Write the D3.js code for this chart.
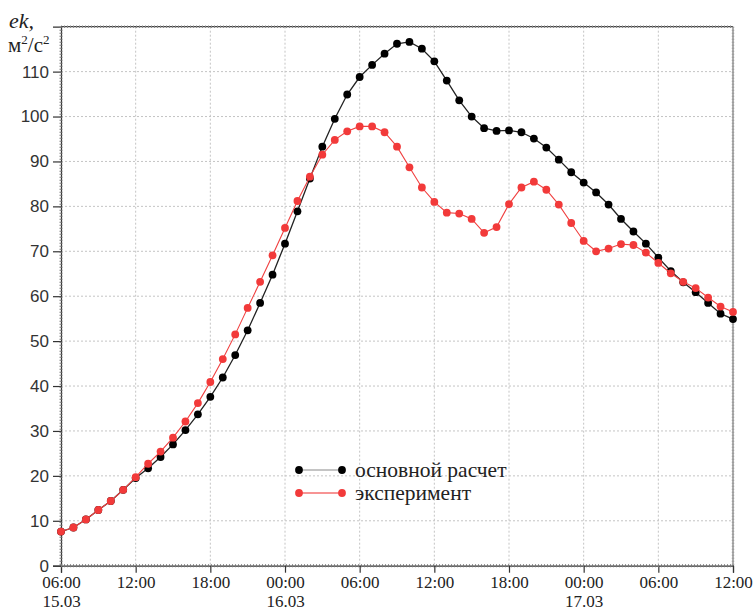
<!DOCTYPE html>
<html>
<head>
<meta charset="utf-8">
<script src="https://cdn.jsdelivr.net/npm/d3@7"></script>
<style>
  html, body { margin: 0; padding: 0; background: #fff; }
  svg { display: block; }
</style>
</head>
<body>
<svg id="chart" width="755" height="611"></svg>
<script>
// ---- data ----
const startTime = new Date(2020, 2, 15, 6, 0);   // 06:00 15.03
const hoursCount = 55;                            // hourly points, 06:00 15.03 .. 12:00 17.03
const times = d3.range(hoursCount).map(h => d3.timeHour.offset(startTime, h));

const seriesNames = ["основной расчет", "эксперимент"];

const calcValues = [
  7.6, 8.5, 10.3, 12.4, 14.4, 16.9, 19.5, 21.7, 24.2, 27.0,
  30.2, 33.7, 37.6, 41.9, 46.9, 52.4, 58.5, 64.8, 71.7, 78.9,
  86.2, 93.3, 99.5, 104.9, 108.8, 111.5, 114.0, 116.2, 116.6, 115.1,
  112.3, 108.0, 103.6, 100.0, 97.4, 96.8, 96.9, 96.5, 95.1, 93.1,
  90.4, 87.6, 85.3, 83.1, 80.4, 77.2, 74.4, 71.7, 68.6, 65.6,
  63.1, 60.9, 58.5, 56.1, 54.9
];

const expValues = [
  7.6, 8.5, 10.3, 12.4, 14.4, 16.9, 19.7, 22.7, 25.4, 28.5,
  32.1, 36.2, 40.9, 46.0, 51.5, 57.4, 63.2, 69.1, 75.2, 81.2,
  86.6, 91.5, 94.8, 96.7, 97.8, 97.8, 96.5, 93.3, 88.7, 84.2,
  81.0, 78.6, 78.4, 77.2, 74.1, 75.4, 80.5, 84.2, 85.5, 83.7,
  80.4, 76.3, 72.3, 70.0, 70.6, 71.6, 71.4, 69.7, 67.4, 65.1,
  63.2, 61.8, 59.7, 57.7, 56.5
];

const yTicks = [0, 10, 20, 30, 40, 50, 60, 70, 80, 90, 100, 110];
const xTickTimes = d3.range(0, 55, 6).map(h => d3.timeHour.offset(startTime, h));
const xTickLabels = ["06:00", "12:00", "18:00", "00:00", "06:00", "12:00", "18:00", "00:00", "06:00", "12:00"];
const xDateLabels = ["15.03", "", "", "16.03", "", "", "", "17.03", "", ""];

// ---- layout ----
const pL = 61, pR = 733, pT = 26.7, pB = 565.7;
const svg = d3.select("#chart");

const x = d3.scaleTime().domain([times[0], times[times.length - 1]]).range([pL, pR]);
const y = d3.scaleLinear().domain([0, 120]).range([pB, pT]);

// grid
const grid = svg.append("g");
grid.selectAll("line.h").data(yTicks.filter(v => v > 0)).enter().append("line")
  .attr("x1", pL).attr("x2", pR)
  .attr("y1", d => y(d)).attr("y2", d => y(d))
  .attr("stroke", "#c4c4c4").attr("stroke-width", 1).attr("stroke-dasharray", "2,2");
grid.selectAll("line.v").data(xTickTimes.slice(1, -1)).enter().append("line")
  .attr("x1", d => x(d)).attr("x2", d => x(d))
  .attr("y1", pT).attr("y2", pB)
  .attr("stroke", "#c4c4c4").attr("stroke-width", 1).attr("stroke-dasharray", "2,2");

// frame (top / right)
svg.append("line").attr("x1", pL).attr("x2", pR).attr("y1", pT).attr("y2", pT)
  .attr("stroke", "#444").attr("stroke-width", 1.2);
svg.append("line").attr("x1", pL).attr("x2", pR).attr("y1", pT).attr("y2", pT)
  .attr("stroke", "#888").attr("stroke-width", 2.5).attr("stroke-dasharray", "1,2");
svg.append("line").attr("x1", pR).attr("x2", pR).attr("y1", pT).attr("y2", pB)
  .attr("stroke", "#777").attr("stroke-width", 1.2);
svg.append("line").attr("x1", pR).attr("x2", pR).attr("y1", pT).attr("y2", pB)
  .attr("stroke", "#999").attr("stroke-width", 2.5).attr("stroke-dasharray", "1,2");

// axes
const yAxis = d3.axisLeft(y).tickValues(yTicks).tickSize(8).tickPadding(4).tickFormat(d3.format("d"));
const gy = svg.append("g").attr("transform", `translate(${pL},0)`).call(yAxis);
gy.select(".domain").attr("stroke", "#333").attr("stroke-width", 1.2);
gy.selectAll(".tick line").attr("stroke", "#333").attr("stroke-width", 1.2);
gy.selectAll(".tick text").attr("font-family", "'Liberation Sans', Arial, sans-serif")
  .attr("font-size", 17).attr("fill", "#333");
gy.append("line").attr("x1", 0).attr("x2", 0).attr("y1", pT).attr("y2", pB)
  .attr("stroke", "#777").attr("stroke-width", 3).attr("stroke-dasharray", "1,2");

const xAxis = d3.axisBottom(x).tickValues(xTickTimes).tickSize(7).tickFormat((d, i) => xTickLabels[i]);
const gx = svg.append("g").attr("transform", `translate(0,${pB})`).call(xAxis);
gx.select(".domain").attr("stroke", "#333").attr("stroke-width", 1.2);
gx.selectAll(".tick line").attr("stroke", "#333").attr("stroke-width", 1.2);
gx.append("line").attr("x1", pL).attr("x2", pR).attr("y1", 0).attr("y2", 0)
  .attr("stroke", "#777").attr("stroke-width", 3).attr("stroke-dasharray", "1,2");
gx.selectAll(".tick text").remove();
gx.selectAll(".tick").append("text")
  .attr("y", 22.3).attr("text-anchor", "middle")
  .attr("font-family", "'Liberation Serif', 'Times New Roman', serif")
  .attr("font-size", 17).attr("fill", "#222")
  .text((d, i) => xTickLabels[i]);
gx.selectAll(".tick").append("text")
  .attr("y", 41.3).attr("text-anchor", "middle")
  .attr("font-family", "'Liberation Serif', 'Times New Roman', serif")
  .attr("font-size", 17).attr("fill", "#222")
  .text((d, i) => xDateLabels[i]);

// y-axis title
const title = svg.append("text").attr("font-family", "'Liberation Serif', 'Times New Roman', serif")
  .attr("fill", "#222");
title.append("tspan").attr("x", 9).attr("y", 28).attr("font-size", 22).attr("font-style", "italic").text("ek,");
const t2 = svg.append("text").attr("font-family", "'Liberation Serif', 'Times New Roman', serif")
  .attr("fill", "#222").attr("x", 8).attr("y", 52).attr("font-size", 21);
t2.append("tspan").text("м");
t2.append("tspan").attr("font-size", 13).attr("dy", -8).text("2");
t2.append("tspan").attr("dy", 8).text("/с");
t2.append("tspan").attr("font-size", 13).attr("dy", -8).text("2");

// series
const line = d3.line().x((d, i) => x(times[i])).y(d => y(d));
const series = [
  { name: seriesNames[1], values: expValues, line: "#f04040", dot: "#f23a3a", width: 1.1 },
  { name: seriesNames[0], values: calcValues, line: "#222", dot: "#000", width: 1.3 }
];
// draw black first, then red on top
[series[1], series[0]].forEach(s => {
  svg.append("path").datum(s.values).attr("d", line)
    .attr("fill", "none").attr("stroke", s.line).attr("stroke-width", s.width);
  svg.append("g").selectAll("circle").data(s.values).enter().append("circle")
    .attr("cx", (d, i) => x(times[i])).attr("cy", d => y(d)).attr("r", 3.9)
    .attr("fill", s.dot);
});

// legend
const legendItems = [
  { name: seriesNames[0], line: "#b0b0b0", dot: "#000", yPos: 470 },
  { name: seriesNames[1], line: "#f47070", dot: "#f23a3a", yPos: 493 }
];
const lg = svg.append("g");
legendItems.forEach(it => {
  lg.append("line").attr("x1", 299).attr("x2", 342).attr("y1", it.yPos).attr("y2", it.yPos)
    .attr("stroke", it.line).attr("stroke-width", 1.6);
  [299, 342].forEach(cx => lg.append("circle").attr("cx", cx).attr("cy", it.yPos).attr("r", 3.9).attr("fill", it.dot));
  lg.append("text").attr("x", 355).attr("y", it.yPos + 7)
    .attr("font-family", "'Liberation Serif', 'Times New Roman', serif")
    .attr("font-size", 21.5).attr("fill", "#222").text(it.name);
});
</script>
</body>
</html>
